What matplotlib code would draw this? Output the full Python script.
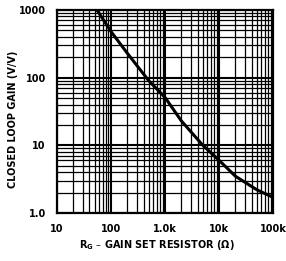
import matplotlib.pyplot as plt
from matplotlib.ticker import FixedLocator, LogLocator, NullFormatter

# gain vs gain-set resistor
rg = [55, 100, 200, 500, 1000, 2000, 5000, 10000, 20000, 50000, 100000]
gain = [1000, 480, 230, 90, 51, 23, 10, 6.0, 3.5, 2.2, 1.7]

x_ticks = [10, 100, 1000, 10000, 100000]
x_labels = ["10", "100", "1.0k", "10k", "100k"]
y_ticks = [1, 10, 100, 1000]
y_labels = ["1.0", "10", "100", "1000"]

fig = plt.figure(figsize=(2.86, 2.61), dpi=100)
ax = fig.add_axes([0.199, 0.184, 0.756, 0.778])

ax.plot(rg, gain, color="black", linewidth=2.2, solid_capstyle="butt")

ax.set_xscale("log")
ax.set_yscale("log")
ax.set_xlim(10, 100000)
ax.set_ylim(1, 1000)

ax.xaxis.set_major_locator(FixedLocator(x_ticks))
ax.yaxis.set_major_locator(FixedLocator(y_ticks))
ax.set_xticklabels(x_labels)
ax.set_yticklabels(y_labels)
ax.xaxis.set_minor_locator(LogLocator(base=10, subs=range(2, 10)))
ax.yaxis.set_minor_locator(LogLocator(base=10, subs=range(2, 10)))
ax.xaxis.set_minor_formatter(NullFormatter())
ax.yaxis.set_minor_formatter(NullFormatter())

ax.grid(True, which="major", color="black", linewidth=1.5)
ax.grid(True, which="minor", color="black", linewidth=0.9)
ax.tick_params(which="both", length=0, labelsize=7, pad=8)
for lbl in ax.get_xticklabels() + ax.get_yticklabels():
    lbl.set_fontweight("bold")
for s in ax.spines.values():
    s.set_linewidth(1.6)

ax.set_xlabel("R$_\\mathbf{G}$ – GAIN SET RESISTOR (Ω)", fontsize=7,
              fontweight="bold")
ax.set_ylabel("CLOSED LOOP GAIN (V/V)", fontsize=7, fontweight="bold")
ax.xaxis.set_label_coords(0.46, -0.125)
ax.yaxis.set_label_coords(-0.18, 0.46)

fig.savefig("out.png", dpi=100)
